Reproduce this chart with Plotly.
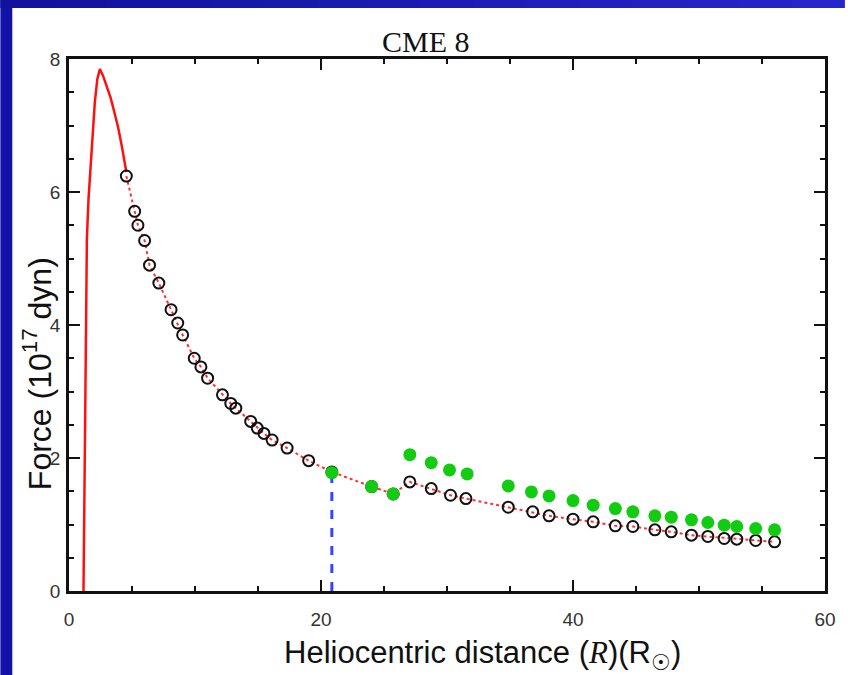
import plotly.graph_objects as go

# ---- data ----
red_x = [1.15, 1.2, 1.25, 1.3, 1.36, 1.42, 1.55, 1.8, 2.05, 2.25, 2.45, 2.7, 3.0, 3.3, 3.6, 3.9, 4.2, 4.55]
red_y = [0.0, 1.1, 2.1, 3.1, 4.3, 5.3, 5.9, 6.6, 7.35, 7.7, 7.85, 7.75, 7.58, 7.42, 7.2, 6.97, 6.68, 6.3]

black_x = [4.55, 5.21, 5.47, 6.0, 6.39, 7.13, 8.10, 8.63, 9.02, 9.94, 10.47, 11.0, 12.18, 12.84, 13.24,
           14.42, 14.94, 15.47, 16.12, 17.31, 19.02, 20.86, 24.02, 25.73, 27.05, 28.75, 30.28, 31.5,
           34.86, 36.8, 38.1, 40.0, 41.6, 43.36, 44.75, 46.5, 47.8, 49.4, 50.7, 52.0, 53.0, 54.5, 56.0]
black_y = [6.24, 5.71, 5.50, 5.27, 4.90, 4.63, 4.23, 4.03, 3.85, 3.50, 3.37, 3.20, 2.95, 2.82, 2.75,
           2.55, 2.45, 2.37, 2.27, 2.15, 1.96, 1.79, 1.57, 1.46, 1.64, 1.54, 1.44, 1.39,
           1.26, 1.19, 1.13, 1.08, 1.04, 0.98, 0.97, 0.92, 0.89, 0.84, 0.82, 0.79, 0.78, 0.76, 0.74]

green_x = [20.86, 24.02, 25.73, 27.05, 28.75, 30.2, 31.6, 34.86, 36.7, 38.1, 40.0, 41.6, 43.36, 44.75,
           46.5, 47.8, 49.4, 50.7, 52.0, 53.0, 54.5, 56.0]
green_y = [1.78, 1.57, 1.46, 2.05, 1.93, 1.82, 1.76, 1.58, 1.49, 1.43, 1.36, 1.29, 1.24, 1.19,
           1.13, 1.11, 1.07, 1.03, 0.99, 0.97, 0.94, 0.92]

blue_x = [20.86, 20.86]
blue_y = [0.0, 1.78]

title_text = "CME 8"
x_title = "Heliocentric distance (<span style='font-family:Liberation Serif'><i>R</i></span>)(R<sub>☉</sub>)"
y_title = "Force (10<sup>17</sup> dyn)"

# ---- layout geometry (pixels) ----
W, H = 848, 675
L, R, T, B = 69, 19, 59, 84
PW, PH = W - L - R, H - T - B


def px2x(px):
    return (px - L) / PW


def py2y(py):
    return (H - B - py) / PH


fig = go.Figure()

fig.add_trace(go.Scatter(x=red_x, y=red_y, mode="lines",
                         line=dict(color="#ff1010", width=2.5), showlegend=False))
fig.add_trace(go.Scatter(x=black_x, y=black_y, mode="lines",
                         line=dict(color="#ff3030", width=2, dash="dot"), showlegend=False))
fig.add_trace(go.Scatter(x=blue_x, y=blue_y, mode="lines",
                         line=dict(color="#3344ff", width=3, dash="dash"), showlegend=False))
fig.add_trace(go.Scatter(x=black_x, y=black_y, mode="markers",
                         marker=dict(symbol="circle-open", size=11, color="#111",
                                     line=dict(width=2, color="#111")), showlegend=False))
fig.add_trace(go.Scatter(x=green_x, y=green_y, mode="markers",
                         marker=dict(symbol="circle", size=13, color="#11cc11"), showlegend=False))

# blue slide frame (left strip + top band with slight gradient)
shapes = [dict(type="rect", xref="paper", yref="paper", x0=px2x(0), x1=px2x(12),
               y0=py2y(H), y1=py2y(0), fillcolor="#1212a6", line=dict(width=0), layer="below")]
n = 16
c0 = (0x12, 0x12, 0x9c)
c1 = (0x26, 0x26, 0xca)
for i in range(n):
    t = i / (n - 1)
    col = "rgb(%d,%d,%d)" % tuple(int(a + (b - a) * t) for a, b in zip(c0, c1))
    shapes.append(dict(type="rect", xref="paper", yref="paper",
                       x0=px2x(W * i / n), x1=px2x(W * (i + 1) / n + 1),
                       y0=py2y(8), y1=py2y(0), fillcolor=col, line=dict(width=0), layer="below"))

annotations = [
    dict(text=title_text, x=px2x(428), y=py2y(41), xref="paper", yref="paper",
         showarrow=False, xanchor="center", yanchor="middle",
         font=dict(family="Liberation Serif", size=30, color="#111")),
    dict(text=x_title, x=px2x(485), y=py2y(655), xref="paper", yref="paper",
         showarrow=False, xanchor="center", yanchor="middle",
         font=dict(family="Liberation Sans", size=31, color="#111")),
    dict(text=y_title, x=px2x(37), y=py2y(374), xref="paper", yref="paper",
         showarrow=False, xanchor="center", yanchor="middle", textangle=-90,
         font=dict(family="Liberation Sans", size=32, color="#111")),
]

axis_common = dict(showgrid=False, zeroline=False, showline=True, linecolor="#111", linewidth=2.5,
                   mirror="ticks", ticks="inside", ticklen=11, tickwidth=2, tickcolor="#111",
                   tickfont=dict(family="Liberation Sans", size=19, color="#333"))

fig.update_layout(
    width=W, height=H,
    margin=dict(l=L, r=R, t=T, b=B),
    paper_bgcolor="white", plot_bgcolor="white",
    shapes=shapes, annotations=annotations,
    xaxis=dict(range=[0, 60], tickvals=[0, 20, 40, 60], ticktext=["0", "20", "40", "60"],
               minor=dict(dtick=5, ticks="inside", ticklen=5, tickwidth=1.5, tickcolor="#111"),
               ticklabelstandoff=9, **axis_common),
    yaxis=dict(range=[0, 8], tickvals=[0, 2, 4, 6, 8], ticktext=["0", "2", "4", "6", "8"],
               minor=dict(dtick=0.5, ticks="inside", ticklen=5, tickwidth=1.5, tickcolor="#111"),
               ticklabelstandoff=2, **axis_common),
)

fig.write_html("out.html", config={"displayModeBar": False},
               post_script="document.body.style.margin='0';document.body.style.padding='0';")
